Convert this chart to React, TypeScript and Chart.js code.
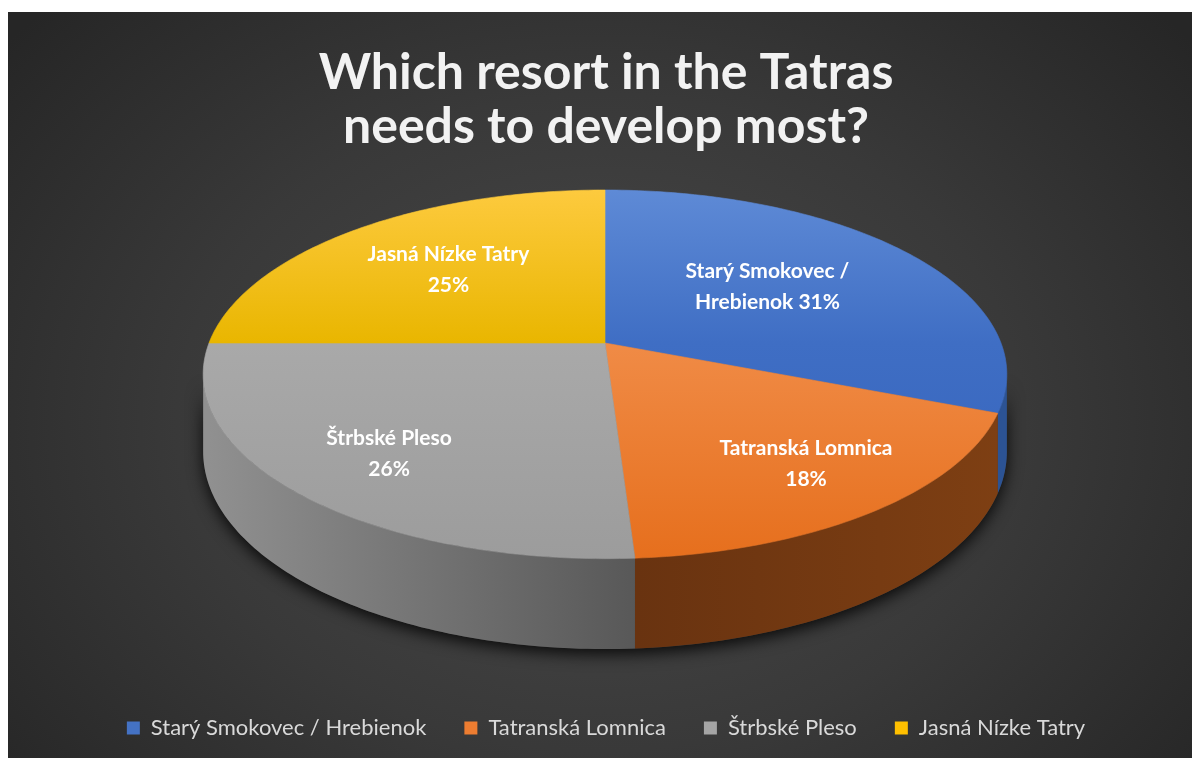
import React, { useEffect, useRef } from "react";
import { Chart, registerables } from "chart.js";

Chart.register(...registerables);

// ---- data ----
const categories = [
  "Starý Smokovec / Hrebienok",
  "Tatranská Lomnica",
  "Štrbské Pleso",
  "Jasná Nízke Tatry",
];
const shares = [31, 18, 26, 25];
const titleLines = ["Which resort in the Tatras", "needs to develop most?"];

// ---- styles ----
const sliceColors = ["#4472C4", "#ED7D31", "#A5A5A5", "#FFC000"];
const topShades = [
  ["#5e8ad6", "#3f6ec4", "#3462bb"],
  ["#f49a5a", "#f08b46", "#e66f1d"],
  ["#b1b1b1", "#a9a9a9", "#9c9c9c"],
  ["#fdca3e", "#e9b600", "#d6a500"],
];
const wallShades = [
  ["#2e5597", "#264a88", "#2c5394"],
  ["#8c4614", "#693310", "#7e3f13"],
  ["#909090", "#585858", "#666666"],
  ["#b38600", "#8a6700", "#a07800"],
];
const labelReach = [
  [0.524, 0.59],
  [0.775, 0.746],
  [0.721, 0.765],
  [0.601, 0.622],
];
// perspective view of the pie plane
const VIEW = { cx: 597, cy: 331, A: 396, B: 179, e: 0.17, d0: 75 };
const FONT = "Lato";

// u, v: point of the unit pie disc (v > 0 toward the viewer)
const proj = (u: number, v: number) => {
  const w = 1 - VIEW.e * v;
  return [VIEW.cx + (VIEW.A * u) / w, VIEW.cy + (VIEW.B * v) / w];
};
const depth = (v: number) => VIEW.d0 / (1 - VIEW.e * v);
const SIL = Math.asin(VIEW.e); // silhouette angle of the side wall

function wallPath(ctx: CanvasRenderingContext2D, a1: number, a2: number) {
  const N = Math.max(8, Math.ceil((a2 - a1) * 60));
  ctx.beginPath();
  for (let k = 0; k <= N; k++) {
    const a = a1 + ((a2 - a1) * k) / N;
    const [px, py] = proj(Math.cos(a), Math.sin(a));
    if (k === 0) ctx.moveTo(px, py);
    else ctx.lineTo(px, py);
  }
  for (let k = N; k >= 0; k--) {
    const a = a1 + ((a2 - a1) * k) / N;
    const [px, py] = proj(Math.cos(a), Math.sin(a));
    ctx.lineTo(px, py + depth(Math.sin(a)));
  }
  ctx.closePath();
}

function facePath(ctx: CanvasRenderingContext2D, a1: number, a2: number) {
  const N = Math.max(8, Math.ceil((a2 - a1) * 60));
  ctx.beginPath();
  const [c0, c1] = proj(0, 0);
  ctx.moveTo(c0, c1);
  for (let k = 0; k <= N; k++) {
    const a = a1 + ((a2 - a1) * k) / N;
    const [px, py] = proj(Math.cos(a), Math.sin(a));
    ctx.lineTo(px, py);
  }
  ctx.closePath();
}

const pie3d = {
  id: "pie3d",
  beforeDatasetsDraw(chart: any) {
    const ctx: CanvasRenderingContext2D = chart.ctx;
    const meta = chart.getDatasetMeta(0);
    const arcs: any[] = meta.data;
    if (!arcs.length) return false;
    const angles = arcs.map((el) => el.getProps(["startAngle", "endAngle"], true));

    // shadow under the whole side wall
    ctx.save();
    ctx.shadowColor = "rgba(0,0,0,0.85)";
    ctx.shadowBlur = 16;
    ctx.shadowOffsetY = 5;
    wallPath(ctx, SIL, Math.PI - SIL);
    ctx.fillStyle = "#3a3a3a";
    ctx.fill();
    ctx.restore();

    // side walls of each slice
    const xl = VIEW.cx - VIEW.A;
    const xr = VIEW.cx + VIEW.A;
    angles.forEach((p, i) => {
      for (const off of [0, 2 * Math.PI, -2 * Math.PI]) {
        const a1 = Math.max(p.startAngle, off + SIL);
        const a2 = Math.min(p.endAngle, off + Math.PI - SIL);
        if (a2 <= a1) continue;
        const g = ctx.createLinearGradient(xl, 0, xr, 0);
        g.addColorStop(0, wallShades[i][0]);
        g.addColorStop(0.54, wallShades[i][1]);
        g.addColorStop(1, wallShades[i][2]);
        wallPath(ctx, a1 - off, a2 - off);
        ctx.fillStyle = g;
        ctx.fill();
      }
    });

    // top faces
    const yTop = proj(0, -1)[1];
    const yBot = proj(0, 1)[1];
    const yMid = (VIEW.cy - yTop) / (yBot - yTop);
    angles.forEach((p, i) => {
      const g = ctx.createLinearGradient(0, yTop, 0, yBot);
      g.addColorStop(0, topShades[i][0]);
      g.addColorStop(yMid, topShades[i][1]);
      g.addColorStop(1, topShades[i][2]);
      facePath(ctx, p.startAngle, p.endAngle);
      ctx.fillStyle = g;
      ctx.fill();
      ctx.strokeStyle = g;
      ctx.lineWidth = 0.6;
      ctx.stroke();
    });

    // data labels
    const data: number[] = chart.data.datasets[0].data;
    const total = data.reduce((s, v) => s + v, 0);
    ctx.save();
    ctx.font = `bold 21px ${FONT}`;
    ctx.fillStyle = "#ffffff";
    ctx.textAlign = "center";
    ctx.textBaseline = "middle";
    angles.forEach((p, i) => {
      const mid = (p.startAngle + p.endAngle) / 2;
      const [lx, ly] = proj(labelReach[i][0] * Math.cos(mid), labelReach[i][1] * Math.sin(mid));
      const pct = Math.round((data[i] / total) * 100) + "%";
      const words = String(chart.data.labels[i]).split(" ");
      const lines: string[] = [];
      let cur = "";
      for (const w of words) {
        const t = cur ? cur + " " + w : w;
        if (cur && ctx.measureText(t).width > 215) {
          lines.push(cur);
          cur = w;
        } else cur = t;
      }
      lines.push(cur);
      if (lines.length > 1) lines[lines.length - 1] += " " + pct;
      else lines.push(pct);
      const lh = 31;
      lines.forEach((ln, k) => {
        ctx.fillText(ln, lx, ly + (k - (lines.length - 1) / 2) * lh);
      });
    });
    ctx.restore();
    return false;
  },
};

export default function App() {
  const ref = useRef<HTMLCanvasElement | null>(null);
  useEffect(() => {
    if (!ref.current) return;
    const chart = new Chart(ref.current, {
      type: "pie",
      data: {
        labels: categories,
        datasets: [
          {
            data: shares,
            backgroundColor: sliceColors,
            borderWidth: 0,
          },
        ],
      },
      options: {
        animation: false,
        responsive: true,
        maintainAspectRatio: false,
        layout: { padding: { bottom: 9, left: 12 } },
        plugins: {
          tooltip: { enabled: false },
          title: {
            display: true,
            text: titleLines,
            color: "#f2f2f2",
            font: { family: FONT, size: 50, weight: "bold", lineHeight: 1.08 },
            padding: { top: 34, bottom: 10 },
          },
          legend: {
            position: "bottom",
            labels: {
              color: "#d9d9d9",
              font: { family: FONT, size: 22 },
              boxWidth: 13,
              boxHeight: 13,
              padding: 38,
            },
          },
        },
      },
      plugins: [pie3d],
    });
    return () => chart.destroy();
  }, []);
  return (
    <div
      style={{
        position: "fixed",
        left: 8,
        top: 12,
        width: 1184,
        height: 746,
        background:
          "radial-gradient(ellipse 65% 80% at 50% 55%, #4a4a4a 0%, #393939 55%, #262626 100%)",
      }}
    >
      <canvas ref={ref} />
    </div>
  );
}
